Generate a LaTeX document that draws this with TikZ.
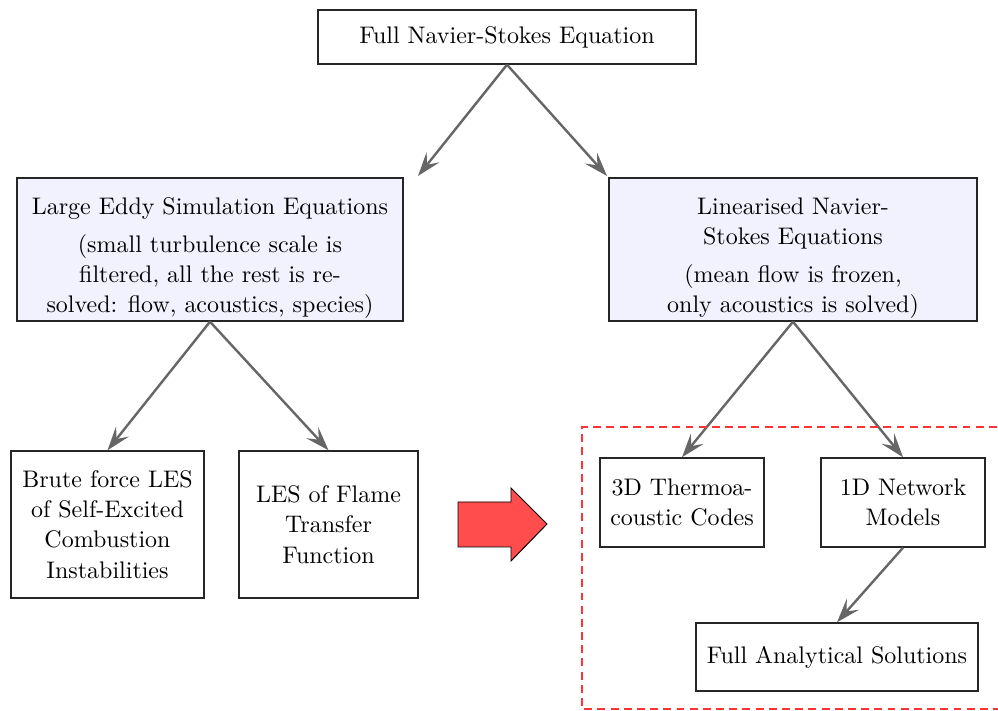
\documentclass[tikz,border=0pt]{standalone}
\usetikzlibrary{arrows.meta}
\begin{document}
\begin{tikzpicture}[x=0.417pt,y=-0.417pt,
  box/.style={draw=black!85, line width=0.6pt, inner sep=0pt, align=center, font=\fontsize{10}{12.6}\selectfont},
  eqbox/.style={box, fill=blue!5},
  conn/.style={draw=black!60, line width=1pt, -{Stealth[length=10pt,width=6.8pt,inset=4pt]}},
  bigarrow/.style={draw=black, line width=0.4pt, fill=red!70},
  zone/.style={draw=red!80, line width=0.5pt, dash pattern=on 3.3pt off 2.2pt}]
\useasboundingbox (0,0) rectangle (998,711);
\node[box, minimum width=378*0.417pt, minimum height=54*0.417pt] (top) at (507,37) {Full Navier-Stokes Equation};
\node[eqbox, minimum width=386*0.417pt, minimum height=143*0.417pt] (les) at (210,249.5)
  {\rule{0pt}{14.2pt}Large Eddy Simulation Equations\\[3pt] (small turbulence scale is\\ filtered, all the rest is re-\\ solved: flow, acoustics, species)};
\node[eqbox, minimum width=368*0.417pt, minimum height=143*0.417pt] (lns) at (793,249.5)
  {\rule{0pt}{14.2pt}Linearised Navier-\\ Stokes Equations\\[3pt] (mean flow is frozen,\\ only acoustics is solved)};
\node[box, minimum width=193*0.417pt, minimum height=147*0.417pt] (bf) at (107.5,524.5)
  {Brute force LES\\ of Self-Excited\\ Combustion\\ Instabilities};
\node[box, minimum width=179*0.417pt, minimum height=147*0.417pt] (ftf) at (328.5,524.5)
  {LES of Flame\\ Transfer\\ Function};
\node[box, minimum width=164*0.417pt, minimum height=89*0.417pt] (td) at (682,502.5)
  {3D Thermoa-\\ coustic Codes};
\node[box, minimum width=164*0.417pt, minimum height=89*0.417pt] (od) at (903,502.5)
  {1D Network\\ Models};
\node[box, minimum width=282*0.417pt, minimum height=68*0.417pt] (fa) at (837,657)
  {Full Analytical Solutions};
\coordinate (lesin) at (418,176);
\coordinate (lnsin) at (607,176);
\draw[conn] (top.south) -- (lesin);
\draw[conn] (top.south) -- (lnsin);
\draw[conn] (les.south) -- (bf.north);
\draw[conn] (les.south) -- (ftf.north);
\draw[conn] (lns.south) -- (td.north);
\draw[conn] (lns.south) -- (od.north);
\draw[conn] (od.south) -- (fa.north);
\draw[bigarrow] (458,502) -- (511,502) -- (511,488) -- (547,524) -- (511,561) -- (511,547) -- (458,547) -- cycle;
\draw[zone] (1010,427) -- (582,427) -- (582,709) -- (1010,709);
\end{tikzpicture}
\end{document}
